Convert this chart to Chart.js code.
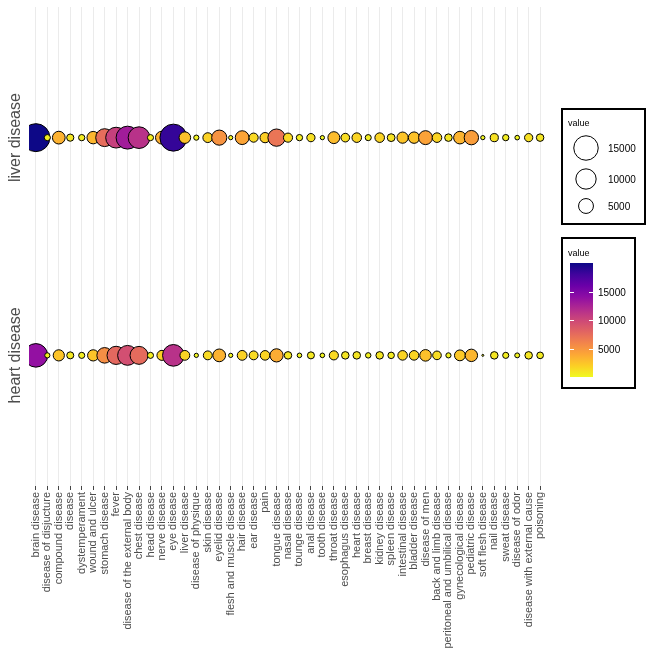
<!DOCTYPE html>
<html>
<head>
<meta charset="utf-8">
<script src="https://cdn.jsdelivr.net/npm/chart.js@4.4.0/dist/chart.umd.min.js"></script>
<style>
  html, body { margin: 0; padding: 0; background: #fff; }
  #wrap { width: 653px; height: 653px; }
</style>
</head>
<body>
<div id="wrap"><canvas id="chart" width="653" height="653"></canvas></div>
<script>
// categories on the x axis
const diseases = [
  'brain disease', 'disease of disjucture', 'compound disease', 'disease', 'dystemperament',
  'wound and ulcer', 'stomach disease', 'fever', 'disease of the external body', 'chest disease',
  'head disease', 'nerve disease', 'eye disease', 'liver disease', 'disease of physique',
  'skin disease', 'eyelid disease', 'flesh and muscle disease', 'hair disease', 'ear disease',
  'pain', 'tongue disease', 'nasal disease', 'tounge disease', 'anal disease',
  'tooth disease', 'throat disease', 'esophagus disease', 'heart disease', 'breast disease',
  'kidney disease', 'spleen disease', 'intestinal disease', 'bladder disease', 'disease of men',
  'back and limb disease', 'peritoneal and umbilical disease', 'gynecological disease', 'pediatric disease', 'soft flesh disease',
  'nail disease', 'sweat disease', 'disease of odor', 'disease with external cause', 'poisoning'
];
// rows on the y axis
const rows = ['liver disease', 'heart disease'];

const liverValues = [
  20000, 600, 3500, 900, 650,
  3300, 7500, 10500, 13000, 11500,
  600, 3600, 18500, 2800, 400,
  1900, 5200, 250, 4200, 1600,
  2100, 7000, 1600, 650, 1250,
  250, 3000, 1400, 1800, 600,
  1800, 1100, 2600, 2700, 4300,
  1800, 1000, 3400, 4600, 250,
  1200, 650, 300, 1250, 1000
];
const heartValues = [
  13800, 400, 2600, 850, 600,
  2600, 5500, 7800, 9500, 7600,
  600, 2000, 11500, 1900, 250,
  1500, 3500, 250, 1900, 1500,
  1800, 3800, 1000, 300, 850,
  300, 1600, 1000, 1000, 450,
  1000, 700, 1800, 1800, 2800,
  1400, 400, 2400, 3300, 100,
  1000, 600, 350, 1000, 750
];

const sizeBreaks = [15000, 10000, 5000];
const colorBreaks = [15000, 10000, 5000];

const allValues = liverValues.concat(heartValues);
const vMin = Math.min(...allValues);
const vMax = Math.max(...allValues);

const PLASMA = [
  [13, 8, 135], [65, 4, 157], [106, 0, 168], [143, 13, 164], [177, 42, 144],
  [204, 71, 120], [225, 100, 98], [242, 132, 75], [252, 166, 54], [252, 206, 37], [240, 249, 33]
];
function plasma(t) {
  t = Math.max(0, Math.min(1, t)) * (PLASMA.length - 1);
  const i = Math.min(Math.floor(t), PLASMA.length - 2), f = t - i;
  const a = PLASMA[i], b = PLASMA[i + 1];
  return `rgb(${a.map((c, k) => Math.round(c + (b[k] - c) * f)).join(',')})`;
}
const norm = v => (v - vMin) / (vMax - vMin);
const fillFor = v => plasma(1 - norm(v));           // low = yellow, high = dark blue
const diamFor = v => 3 + 26 * Math.sqrt(norm(v));   // outer diameter in px

const points = [];
[liverValues, heartValues].forEach((vals, r) => {
  vals.forEach((v, i) => points.push({ x: i, y: r, v }));
});

const FONT = '"Liberation Sans", Arial, sans-serif';

const extras = {
  id: 'extras',
  afterDraw(chart) {
    const ctx = chart.ctx, ys = chart.scales.y;
    ctx.save();
    // rotated row labels
    ctx.fillStyle = '#4d4d4d';
    ctx.font = `16px ${FONT}`;
    ctx.textAlign = 'center';
    ctx.textBaseline = 'middle';
    rows.forEach((lab, r) => {
      ctx.save();
      ctx.translate(16, ys.getPixelForValue(r));
      ctx.rotate(-Math.PI / 2);
      ctx.fillText(lab, 0, 0);
      ctx.restore();
    });

    // size legend
    ctx.strokeStyle = '#000';
    ctx.lineWidth = 2;
    ctx.strokeRect(562, 109, 83, 115);
    ctx.fillStyle = '#000';
    ctx.textAlign = 'left';
    ctx.font = `9px ${FONT}`;
    ctx.fillText('value', 568, 124);
    const cy = [148, 179, 206];
    ctx.lineWidth = 1;
    ctx.font = `10px ${FONT}`;
    sizeBreaks.forEach((b, k) => {
      ctx.beginPath();
      ctx.arc(586, cy[k], (diamFor(b) - 1) / 2, 0, Math.PI * 2);
      ctx.stroke();
      ctx.fillText(String(b), 608, cy[k] + 1);
    });

    // colour legend
    ctx.lineWidth = 2;
    ctx.strokeRect(562, 238, 73, 150);
    ctx.font = `9px ${FONT}`;
    ctx.fillText('value', 568, 254);
    const bx = 570, bw = 23, top = 263, bot = 377;
    const grad = ctx.createLinearGradient(0, bot, 0, top);
    for (let k = 0; k <= 20; k++) grad.addColorStop(k / 20, plasma(1 - k / 20));
    ctx.fillStyle = grad;
    ctx.fillRect(bx, top, bw, bot - top);
    ctx.strokeStyle = '#fff';
    ctx.lineWidth = 1;
    ctx.fillStyle = '#000';
    ctx.font = `10px ${FONT}`;
    colorBreaks.forEach(b => {
      const y = Math.round(bot - norm(b) * (bot - top)) + 0.5;
      ctx.beginPath();
      ctx.moveTo(bx, y); ctx.lineTo(bx + 4, y);
      ctx.moveTo(bx + bw - 4, y); ctx.lineTo(bx + bw, y);
      ctx.stroke();
      ctx.fillText(String(b), 598, y + 1);
    });
    ctx.restore();
  }
};

new Chart(document.getElementById('chart'), {
  type: 'bubble',
  data: {
    datasets: [{
      data: points,
      clip: 0,
      borderColor: '#000',
      borderWidth: 1,
      backgroundColor: ctx => fillFor(ctx.raw.v),
      radius: ctx => (diamFor(ctx.raw.v) - 1) / 2
    }]
  },
  options: {
    responsive: false,
    devicePixelRatio: 1,
    animation: false,
    events: [],
    layout: { autoPadding: false, padding: { left: 29, right: 106, top: 7, bottom: 0 } },
    plugins: { legend: { display: false }, tooltip: { enabled: false } },
    scales: {
      x: {
        type: 'linear',
        min: -0.6,
        max: diseases.length - 0.4,
        afterBuildTicks: s => { s.ticks = diseases.map((_, i) => ({ value: i })); },
        afterFit: s => { s.height = 167; },
        ticks: {
          autoSkip: false, minRotation: 90, maxRotation: 90, padding: 2,
          color: '#4d4d4d', font: { family: FONT, size: 11 },
          callback: v => diseases[v]
        },
        grid: { color: '#ebebeb', lineWidth: 1, tickLength: 4, tickColor: '#444' },
        border: { display: false }
      },
      y: {
        type: 'linear',
        display: false,
        reverse: true,
        min: -0.6,
        max: rows.length - 0.4
      }
    }
  },
  plugins: [extras]
});
</script>
</body>
</html>
